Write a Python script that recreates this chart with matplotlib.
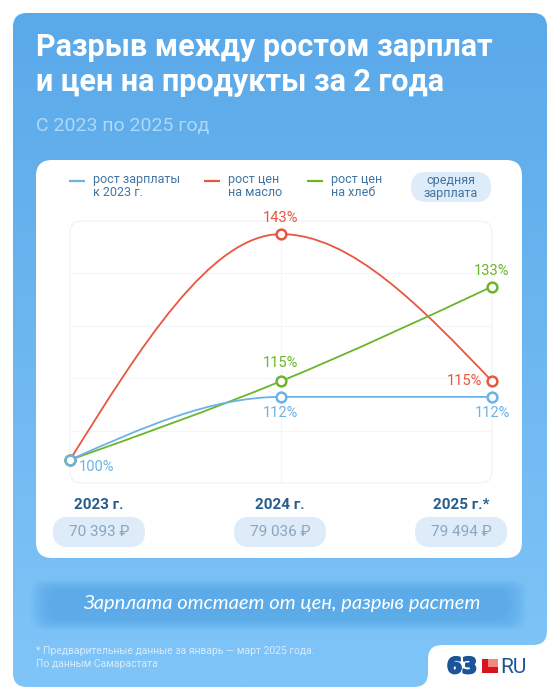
import numpy as np
import matplotlib
matplotlib.use('Agg')
import matplotlib.pyplot as plt
import matplotlib.patheffects as pe
from matplotlib.path import Path
from matplotlib.patches import PathPatch, FancyBboxPatch, Rectangle
from matplotlib.colors import to_rgb

plt.rcParams['font.family'] = ['Roboto', 'DejaVu Sans']

# data
years = ['2023 г.', '2024 г.', '2025 г.*']
salary_growth = [100, 112, 112]
butter_growth = [100, 143, 115]
bread_growth = [100, 115, 133]
avg_salary = ['70 393 ₽', '79 036 ₽', '79 494 ₽']

BLUE = '#6BB3E6'
RED = '#E8563F'
GREEN = '#6BB52B'
LEG_TXT = '#3F74A3'


def rounded_poly(pts, r):
    verts, codes = [], []
    n = len(pts)
    for i in range(n):
        p0, p1, p2 = np.array(pts[i - 1], float), np.array(pts[i], float), np.array(pts[(i + 1) % n], float)
        d0 = (p0 - p1) / np.linalg.norm(p0 - p1)
        d2 = (p2 - p1) / np.linalg.norm(p2 - p1)
        verts.append(p1 + d0 * r)
        codes.append(Path.MOVETO if i == 0 else Path.LINETO)
        verts += [p1, p1 + d2 * r]
        codes += [Path.CURVE3, Path.CURVE3]
    verts.append(verts[0])
    codes.append(Path.CLOSEPOLY)
    return Path(verts, codes)


def monotone_path(xs, ys):
    # cubic bezier through the points, monotone-x style tangents
    xs, ys = np.asarray(xs, float), np.asarray(ys, float)
    n = len(xs)
    s = np.diff(ys) / np.diff(xs)
    t = np.zeros(n)
    for i in range(1, n - 1):
        h0, h1 = xs[i] - xs[i - 1], xs[i + 1] - xs[i]
        p = (s[i - 1] * h1 + s[i] * h0) / (h0 + h1)
        t[i] = (np.sign(s[i - 1]) + np.sign(s[i])) * min(abs(s[i - 1]), abs(s[i]), 0.5 * abs(p))
    t[0] = (3 * s[0] - t[1]) / 2
    t[-1] = (3 * s[-1] - t[-2]) / 2
    verts = [(xs[0], ys[0])]
    codes = [Path.MOVETO]
    for i in range(n - 1):
        dx = (xs[i + 1] - xs[i]) / 3
        verts += [(xs[i] + dx, ys[i] + dx * t[i]), (xs[i + 1] - dx, ys[i + 1] - dx * t[i + 1]), (xs[i + 1], ys[i + 1])]
        codes += [Path.CURVE4] * 3
    return Path(verts, codes)


fig = plt.figure(figsize=(5.6, 7), dpi=100)
bg = fig.add_axes([0, 0, 1, 1])
bg.set_xlim(0, 560)
bg.set_ylim(700, 0)
bg.axis('off')

# blue card with notch for the logo
card = rounded_poly([(13, 13), (547, 13), (547, 645), (428, 645), (428, 687), (13, 687)], 14)
card_patch = PathPatch(card, fc='none', ec='none')
bg.add_patch(card_patch)
c0, c1 = np.array(to_rgb('#5AA9E9')), np.array(to_rgb('#80C5F8'))
g = np.linspace(0, 1, 256)[:, None, None]
grad = c0 + (c1 - c0) * g
im = bg.imshow(grad, extent=(13, 547, 687, 13), aspect='auto', origin='upper', zorder=1)
im.set_clip_path(card_patch)
bg.set_xlim(0, 560)
bg.set_ylim(700, 0)

# title
bg.text(36, 56, 'Разрыв между ростом зарплат', color='white', fontsize=22, fontweight='bold', va='baseline', zorder=3)
bg.text(36, 91, 'и цен на продукты за 2 года', color='white', fontsize=22, fontweight='bold', va='baseline', zorder=3)
bg.text(36, 131, 'С 2023 по 2025 год', color='#ADD8F8', fontsize=14, va='baseline', zorder=3)

# white card
bg.add_patch(FancyBboxPatch((36, 160), 486, 398, boxstyle='round,pad=0,rounding_size=16',
                            fc='white', ec='none', zorder=2))
bg.add_patch(FancyBboxPatch((70, 221), 422, 262, boxstyle='round,pad=0,rounding_size=12',
                            fc='none', ec='#EFF2F5', lw=0.8, zorder=3))

# legend
leg = [(69, BLUE, 'рост зарплаты\nк 2023 г.'), (204, RED, 'рост цен\nна масло'), (307, GREEN, 'рост цен\nна хлеб')]
for x, col, lab in leg:
    bg.plot([x, x + 16], [181, 181], color=col, lw=1.6, zorder=4, solid_capstyle='butt')
    bg.text(x + 24, 186, lab, color=LEG_TXT, fontsize=9, va='center', linespacing=0.95, zorder=4)
bg.add_patch(FancyBboxPatch((411, 172), 80, 30, boxstyle='round,pad=0,rounding_size=15',
                            fc='#DEECF9', ec='none', zorder=3))
bg.text(451, 187, 'средняя\nзарплата', color=LEG_TXT, fontsize=9, ha='center', va='center',
        linespacing=0.95, zorder=4)

# chart
ax = fig.add_axes([70 / 560, 1 - 483 / 700, 422 / 560, 262 / 700])
ax.set_xlim(0, 2)
ax.set_ylim(95.6, 145.5)
ax.axis('off')
ax.patch.set_alpha(0)
for yy in np.linspace(95.6, 145.5, 6)[1:-1]:
    ax.axhline(yy, color='#F3F5F8', lw=0.8, zorder=1)
ax.axvline(1, color='#F3F5F8', lw=0.8, zorder=1)

xs = np.arange(len(years))
for ys, col in [(butter_growth, RED), (bread_growth, GREEN), (salary_growth, BLUE)]:
    ax.add_patch(PathPatch(monotone_path(xs, ys), fc='none', ec=col, lw=1.3, zorder=3, clip_on=False))
for ys, col in [(butter_growth, RED), (bread_growth, GREEN), (salary_growth, BLUE)]:
    ax.plot(xs, ys, 'o', ms=7, mfc='white', mec=col, mew=1.8, zorder=5, clip_on=False)

fs = 10.5
def lab(x, y, txt, col, dx, dy, ha='center'):
    ax.annotate(txt, (x, y), xytext=(dx * 0.72, dy * 0.72), textcoords='offset points',
                color=col, fontsize=fs, ha=ha, va='center', annotation_clip=False, zorder=6)

lab(0, salary_growth[0], f'{salary_growth[0]}%', BLUE, 27, -7)
lab(1, salary_growth[1], f'{salary_growth[1]}%', BLUE, 0, -16)
lab(2, salary_growth[2], f'{salary_growth[2]}%', BLUE, 0, -16)
lab(1, bread_growth[1], f'{bread_growth[1]}%', GREEN, 0, 18)
lab(2, bread_growth[2], f'{bread_growth[2]}%', GREEN, 0, 16)
lab(1, butter_growth[1], f'{butter_growth[1]}%', RED, 0, 16)
lab(2, butter_growth[2], f'{butter_growth[2]}%', RED, -10, 0, ha='right')

# years and salaries
for cx, yr, sal in zip([99, 280, 461], years, avg_salary):
    bg.text(cx, 509, yr, color='#275C8D', fontsize=11, fontweight='bold', ha='center', va='baseline', zorder=4)
    bg.add_patch(FancyBboxPatch((cx - 46, 517), 92, 30, boxstyle='round,pad=0,rounding_size=15',
                                fc='#DEECF9', ec='none', zorder=3))
    bg.text(cx, 532, sal, color='#8AA6BF', fontsize=11, ha='center', va='center', zorder=4)

# banner (soft, blurred stripe)
for k in range(14):
    bg.add_patch(FancyBboxPatch((30 + k * 1.5, 580 + k * 0.8), 497 - k * 3, 50 - k * 1.6,
                                boxstyle='round,pad=0,rounding_size=14',
                                fc='#4DA1E8', ec='none', alpha=0.06, zorder=2))
bg.text(282, 604, 'Зарплата отстает от цен, разрыв растет', color='white', fontsize=14.5,
        fontstyle='italic', family=['Lato', 'DejaVu Sans'], ha='center', va='center', zorder=4)

# footnote
bg.text(36, 654, '* Предварительные данные за январь — март 2025 года.', color='#D6ECFC', fontsize=7.5,
        va='baseline', zorder=4)
bg.text(36, 667, 'По данным Самарастата', color='#D6ECFC', fontsize=7.5, va='baseline', zorder=4)

# logo
bg.text(447, 673, '63', color='#1B5597', fontsize=15.5, fontweight='bold', family=['DejaVu Sans'],
        va='baseline', zorder=4, path_effects=[pe.withStroke(linewidth=1.6, foreground='#1B5597')])
bg.add_patch(Rectangle((482, 659), 16, 14, fc='#D7141D', ec='none', zorder=4))
bg.add_patch(Rectangle((488, 659), 10, 8, fc='#F2877E', ec='none', zorder=5))
bg.text(500, 673, 'RU', color='#1B5597', fontsize=15, va='baseline', zorder=4)

fig.savefig('out.png', dpi=100)
